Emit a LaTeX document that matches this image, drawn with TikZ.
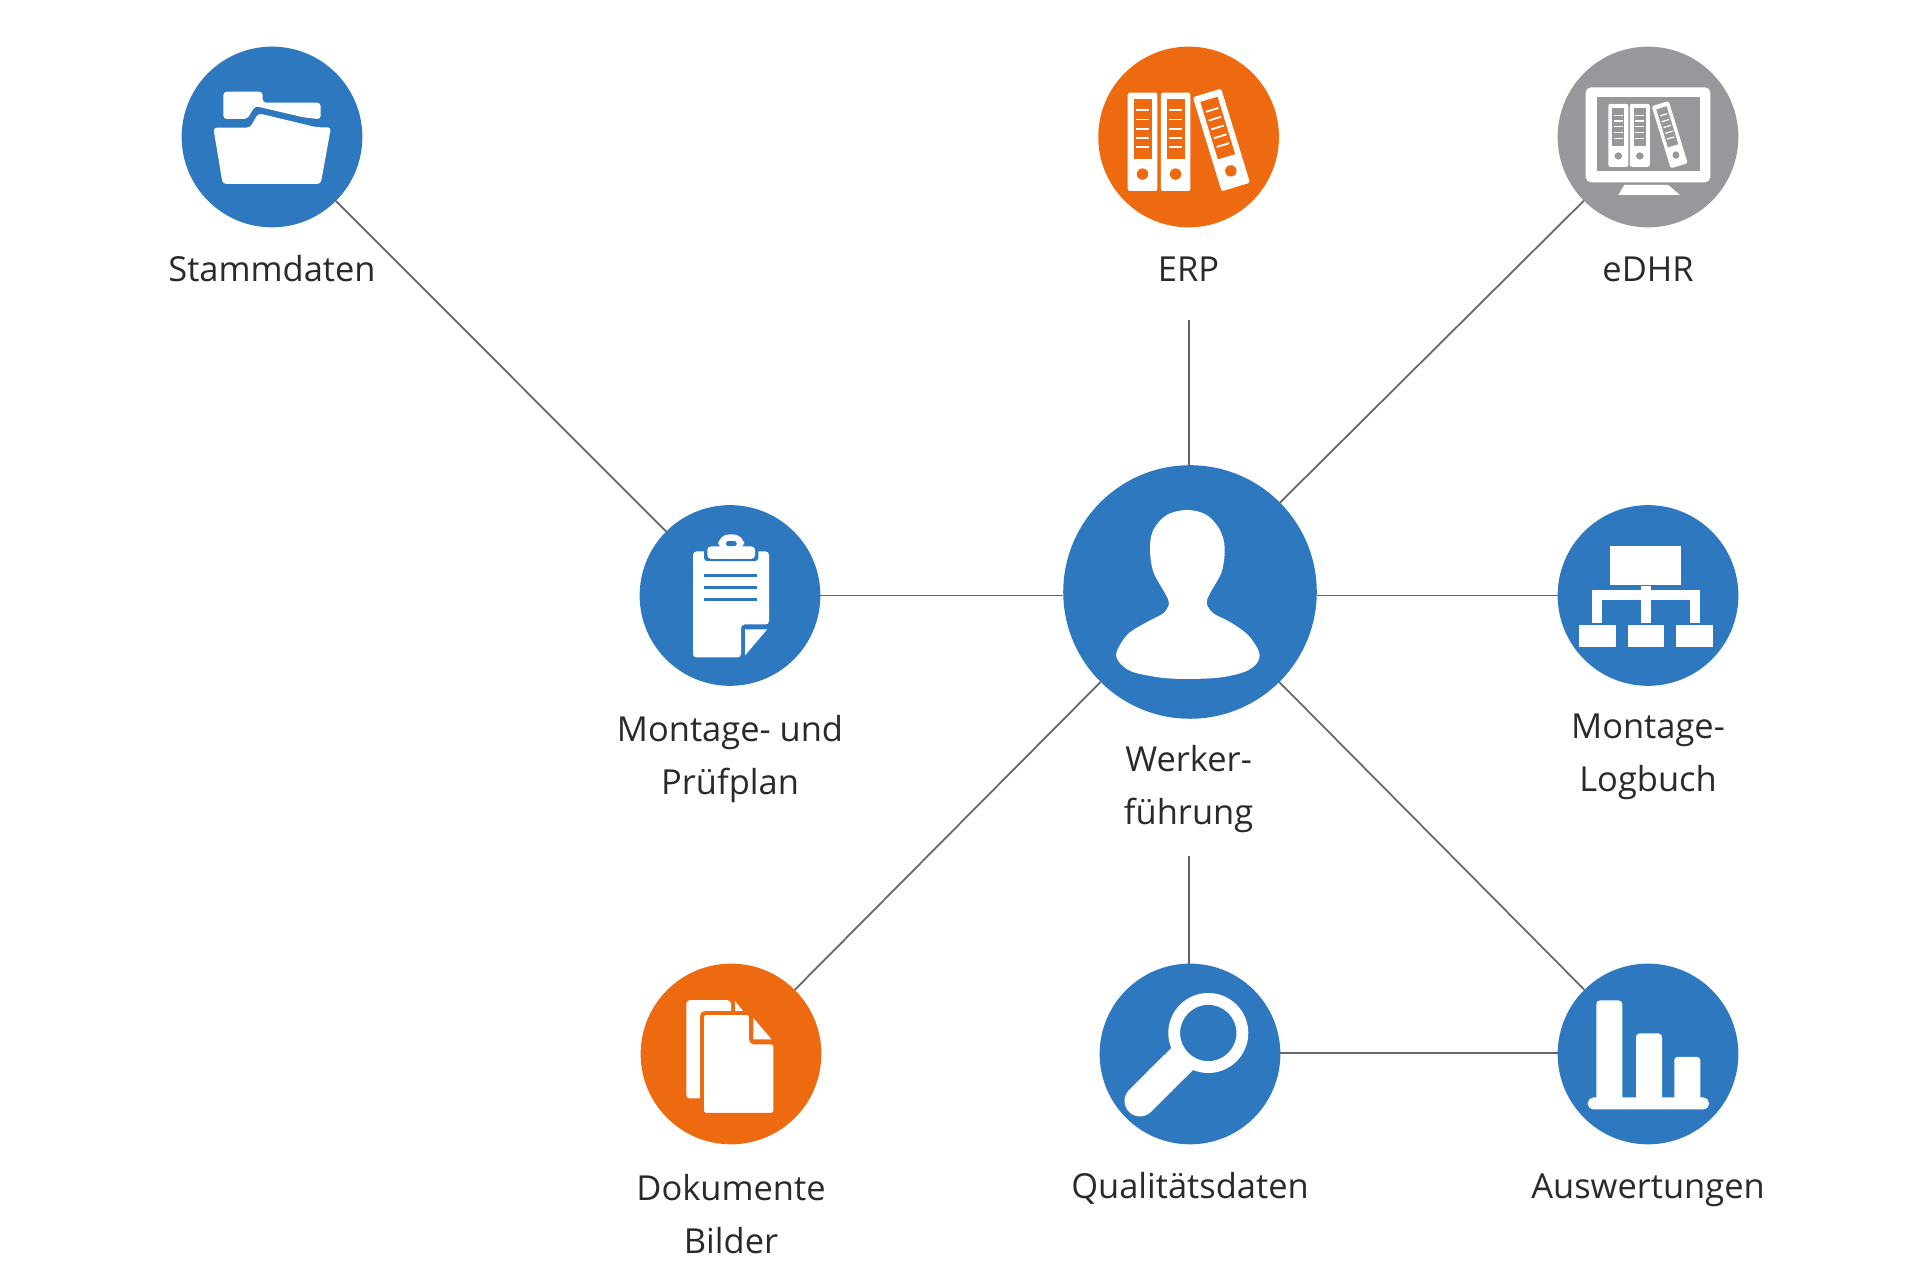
\documentclass[tikz,border=0pt]{standalone}
\usepackage{xcolor}
\usepackage{fontspec}
\setmainfont{Open Sans}
\definecolor{wfBlue}{HTML}{2E78BF}
\definecolor{wfOrange}{HTML}{EE6A10}
\definecolor{wfGray}{HTML}{97989B}
\definecolor{wfLine}{HTML}{666666}
\definecolor{wfText}{HTML}{2A2A2A}
\usepackage{tikz}
\tikzset{
  bubble/.style={circle, inner sep=0pt, outer sep=0pt, minimum size=1.806cm},
  hubble/.style={bubble, minimum size=2.534cm},
  caption/.style={align=center, text=wfText, font=\fontsize{9.8}{14.9}\selectfont},
  link/.style={draw=wfLine, line width=0.5pt},
}
% one binder, drawn round its own middle
\newcommand{\wfBinder}[1]{
  \fill[white, rounded corners=0.6pt] (-14.8,-49.2) rectangle (14.8,49.2);
  \fill[#1] (-9,-42.5) rectangle (9,17.5);
  \foreach \yy in {-31.5,-22.3,-13.1,-3.9,5.3} {
    \fill[white] (-6.5,\yy-0.9) rectangle (6.5,\yy+0.9);
  }
  \fill[#1] (0,32.3) circle (5.7);
}

\begin{document}
\begin{tikzpicture}[x=0.01cm, y=-0.01cm]
    \useasboundingbox (0,0) rectangle (1920,1280);

    % --- Stammdaten ---
    \begin{scope}[shift={(272,137)}]
        \node[bubble, fill=wfBlue] (stammdaten) at (0,0) {};
        \fill[white, rounded corners=1pt] (-48.7,-45.3) -- (-9.3,-45.3) -- (-9.3,-34.3) -- (48.7,-34.3) -- (48.7,-17.7)
            -- (31.3,-19.7) -- (-17,-31) -- (-24.7,-18) -- (-48.7,-18) -- cycle;
        \fill[white, rounded corners=1pt] (-58.7,-9.3) -- (-22,-9.3) -- (-13.7,-23.7) -- (31,-13) -- (44.7,-9.7)
            -- (59,-9.7) -- (48.7,47) -- (-49.3,47) -- cycle;
    \end{scope}

    % --- ERP ---
    \begin{scope}[shift={(1188.6,137)}]
        \node[bubble, fill=wfOrange] (erp) at (0,0) {};
        \begin{scope}[shift={(-46.1,4.8)}] \wfBinder{wfOrange} \end{scope}
        \begin{scope}[shift={(-13,4.8)}] \wfBinder{wfOrange} \end{scope}
        \begin{scope}[shift={(32.8,3)}, rotate=17] \wfBinder{wfOrange} \end{scope}
    \end{scope}

    % --- eDHR ---
    \begin{scope}[shift={(1648,137)}]
        \node[bubble, fill=wfGray] (edhr) at (0,0) {};
        \fill[white, rounded corners=1.5pt] (-62.3,-49.7) rectangle (62.3,45.3);
        \fill[wfGray] (-51.3,-39.7) rectangle (51.7,34.3);
        \fill[white] (-23.7,48) -- (20.3,48) -- (32,58) -- (-29.7,58) -- cycle;
        \begin{scope}[shift={(-29.7,-1.7)}, xscale=0.674, yscale=0.64] \wfBinder{wfGray} \end{scope}
        \begin{scope}[shift={(-8.2,-1.7)}, xscale=0.674, yscale=0.64] \wfBinder{wfGray} \end{scope}
        \begin{scope}[shift={(21.7,-2.3)}, rotate=17, xscale=0.6, yscale=0.66] \wfBinder{wfGray} \end{scope}
    \end{scope}

    % --- Montage- und Pruefplan ---
    \begin{scope}[shift={(730,595.5)}]
        \node[bubble, fill=wfBlue] (pruefplan) at (0,0) {};
        \fill[white, rounded corners=1pt] (-37,-44) -- (39,-44) -- (39,29) -- (11,29) -- (11,62) -- (-37,62) -- cycle;
        \fill[white] (15,34) -- (37,34) -- (15,60) -- cycle;
        \fill[wfBlue, rounded corners=1pt] (-26,-52) rectangle (28.3,-34.3);
        \fill[white, rounded corners=1pt] (-22.7,-49) rectangle (25,-36.7);
        \fill[white, rounded corners=3pt] (-11.7,-61) rectangle (14,-44);
        \fill[wfBlue, rounded corners=0.5pt] (-4,-54.3) rectangle (6.7,-49.3);
        \foreach \yy in {-20.3,-8,4.3} {
            \fill[wfBlue] (-26,\yy-1.6) rectangle (26.7,\yy+1.6);
        }
    \end{scope}

    % --- Werkerfuehrung ---
    \begin{scope}[shift={(1190,592)}]
        \node[hubble, fill=wfBlue] (werker) at (0,0) {};
        \fill[white] plot[smooth cycle, tension=0.55] coordinates {(-2.7,-82) (-23.3,-77) (-36.7,-62) (-40,-43.7)
            (-36.7,-20.3) (-25,1.3) (-21,11.3) (-26.7,21.3) (-43,30) (-62,42) (-73.3,59.7) (-71,70) (-58,79.7) (-30,85.5)
            (-3.3,87) (30,85.5) (55,79.7) (67,71) (69,60) (58,43) (40,30) (23.3,21.3) (16.7,11.3) (20,1.3)
            (31.7,-20.3) (34.7,-43.7) (30,-62) (16.7,-77)};
    \end{scope}

    % --- Montage-Logbuch ---
    \begin{scope}[shift={(1648,595.5)}]
        \node[bubble, fill=wfBlue] (logbuch) at (0,0) {};
        \fill[white] (-37.7,-49.8) rectangle (32.7,-10.8);
        \fill[white] (-55.7,-5.5) rectangle (51.7,4.8);
        \fill[white] (-7,-9) rectangle (3,27.8);
        \fill[white] (-55.7,-5.5) rectangle (-45.7,27.8);
        \fill[white] (41.7,-5.5) rectangle (51.7,27.8);
        \foreach \xa/\xb in {-69/-32.3,-20.3/16.3,28.3/65.3} {
            \fill[white] (\xa,29.5) rectangle (\xb,51.2);
        }
    \end{scope}

    % --- Dokumente Bilder ---
    \begin{scope}[shift={(731,1054)}]
        \node[bubble, fill=wfOrange] (dokumente) at (0,0) {};
        \fill[white, rounded corners=1pt] (-44.7,-53.8) rectangle (0,44.5);
        \fill[white] (4,-53) -- (12,-43) -- (4,-43) -- cycle;
        \fill[white, draw=wfOrange, line width=1.13pt, rounded corners=1pt] (-29,-41) -- (20,-41) -- (20,-11.5) -- (44.3,-11.5)
            -- (44.3,60.8) -- (-29,60.8) -- cycle;
        \fill[white] (22.3,-36) -- (40.7,-14.5) -- (22.3,-14.5) -- cycle;
    \end{scope}

    % --- Qualitaetsdaten ---
    \begin{scope}[shift={(1190,1054)}]
        \node[bubble, fill=wfBlue] (qualitaet) at (0,0) {};
        \fill[white, even odd rule] (18.3,-21) circle (40) (18.3,-21) circle (28.2);
        \draw[white, line width=8.8pt, line cap=round] (-50,47) -- (-30,27);
        \draw[white, line width=8.8pt] (-30,27) -- (-7.2,4.4);
    \end{scope}

    % --- Auswertungen ---
    \begin{scope}[shift={(1648,1054)}]
        \node[bubble, fill=wfBlue] (auswertungen) at (0,0) {};
        \fill[white, rounded corners=1.6pt] (-60.3,43.5) rectangle (61,55.5);
        \fill[white, rounded corners=1pt] (-51.7,-53.5) -- (-25.7,-53.5) -- (-25.7,50) -- (-51.7,50) -- cycle;
        \fill[white, rounded corners=1pt] (-12,-20.5) -- (14,-20.5) -- (14,50) -- (-12,50) -- cycle;
        \fill[white, rounded corners=1pt] (26.3,2.8) -- (52.3,2.8) -- (52.3,50) -- (26.3,50) -- cycle;
    \end{scope}

    % Labels
    \node[caption] (stammdatenlabel) at (272,269) {Stammdaten};
    \node[caption] (erplabel) at (1188.6,269) {ERP};
    \node[caption] (edhrlabel) at (1648,269) {eDHR};
    \node[caption] (pruefplanlabel) at (730,759) {Montage- und\\Prüfplan};
    \node[caption] (werkerlabel) at (1188.6,789) {Werker-\\führung};
    \node[caption] (logbuchlabel) at (1648,757) {Montage-\\Logbuch};
    \node[caption] (dokumentelabel) at (731,1214) {Dokumente\\Bilder};
    \node[caption] (qualitaetlabel) at (1190,1188) {Qualitätsdaten};
    \node[caption] (auswertungenlabel) at (1648,1190) {Auswertungen};

    % Connectors
    \coordinate (erpend) at (1189,320);
    \coordinate (qualitaetend) at (1189,856);
    \draw[link] (stammdaten) -- (pruefplan);
    \draw[link] (erpend) -- (erpend |- werker.north);
    \draw[link] (edhr) -- (werker);
    \draw[link] (pruefplan.east) -- (pruefplan.east -| werker.west);
    \draw[link] (logbuch.west) -- (logbuch.west -| werker.east);
    \draw[link] (dokumente) -- (werker);
    \draw[link] (auswertungen) -- (werker);
    \draw[link] (qualitaetend) -- (qualitaetend |- qualitaet.north);
    \draw[link] ([yshift=0.01cm]qualitaet.east) -- ([yshift=0.01cm]auswertungen.west);

\end{tikzpicture}
\end{document}
